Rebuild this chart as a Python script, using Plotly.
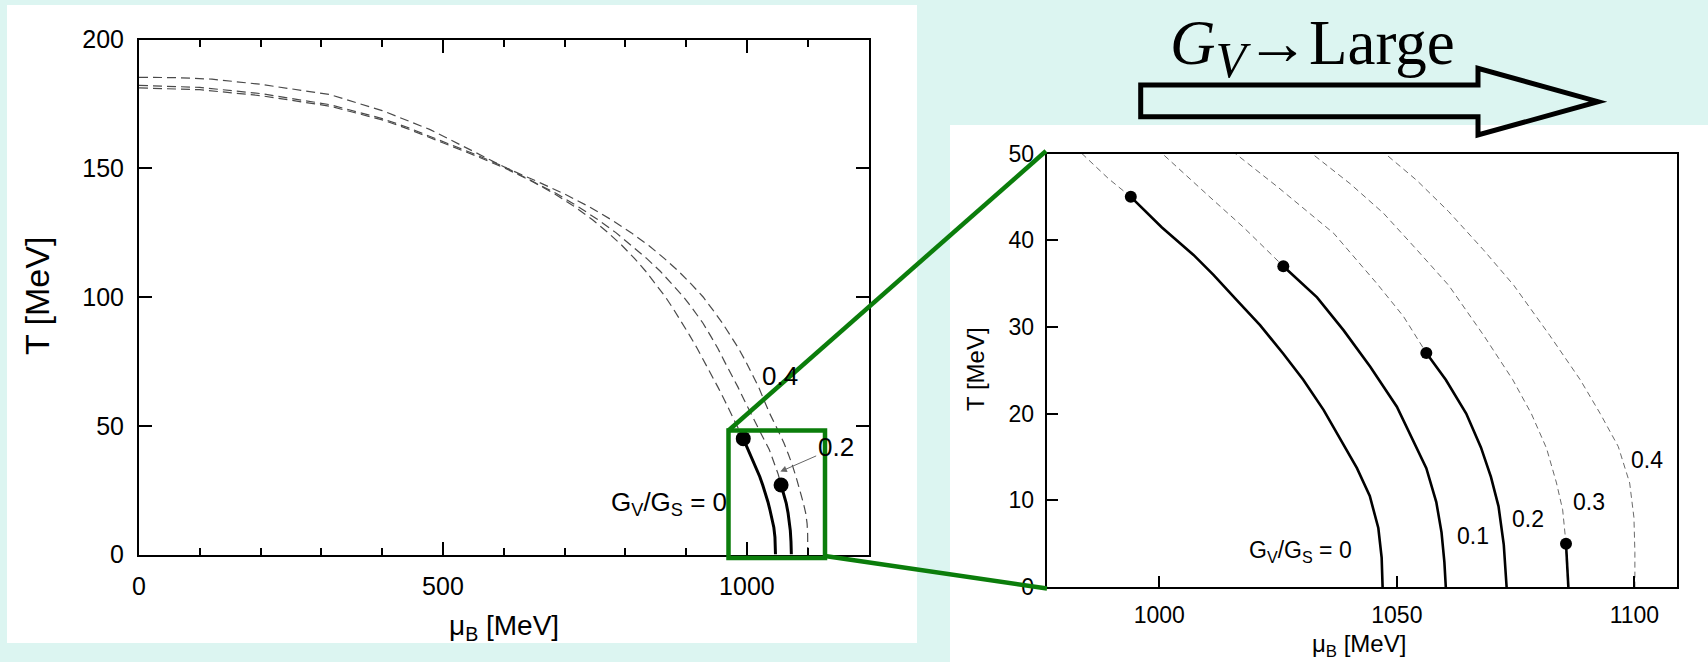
import plotly.graph_objects as go

W, H = 1708, 662

# ---- phase boundaries in the (mu_B, T) plane, in MeV ----
# crossover branches (dashed), running from mu_B = 0 down to the critical end point
cross_mu_g00 = [0, 100, 200, 314, 400, 440, 490, 552, 602, 646, 684, 717, 746, 771.5, 794.5,
                815, 833.5, 850.5, 866, 880, 893.3, 906, 918.3, 930, 941.3, 952.3, 963,
                973.5, 983.7, 989.3, 994]
cross_T_g00 = [181.2, 180.5, 178.2, 174.1, 168.8, 165.5, 160.8, 155, 150, 145, 140, 135, 130, 125, 120,
               115, 110, 105, 100, 95, 90, 85, 80, 75, 70, 65, 60, 55, 50, 47.1, 45]

cross_mu_g01 = [996.2, 1000.6, 1011.4, 1017.7, 1026.1]
cross_T_g01 = [52, 50, 44.6, 41.5, 37]

cross_mu_g02 = [0, 100, 200, 314, 400, 440, 490, 552, 603, 648, 688, 723, 755, 784.5, 810.5,
                835, 857.5, 877.5, 896, 912, 927.3, 940, 952.3, 963, 974.3, 985.3, 995.5,
                1005.7, 1016, 1025, 1036.7, 1045.8, 1051.4, 1056.2]
cross_T_g02 = [182.2, 181.4, 179, 174.7, 169.3, 166, 161.3, 155.5, 150.3, 145, 140, 135, 130, 125, 120,
               115, 110, 105, 100, 95, 90, 85, 80, 75, 70, 65, 60, 55, 50, 46.1, 40.8, 35, 31.2, 27]

cross_mu_g03 = [1027.9, 1032.1, 1040.2, 1047.2, 1054.2, 1060.9, 1068.3, 1074.4, 1078.3, 1081.5,
                1083.6, 1084.9, 1085.6]
cross_T_g03 = [52, 50, 46.5, 43.1, 38.9, 34.8, 29, 23.9, 20, 16, 12, 8.9, 5]

cross_mu_g04 = [0, 60, 120, 200, 314, 400, 479, 540, 605, 654, 700, 741, 777, 809.5, 838.5, 864,
                887.5, 908.5, 928, 944, 959.3, 973, 986.3, 998, 1009.3, 1019.3, 1028, 1037,
                1047.5, 1054.2, 1060.9, 1068.2, 1074.6, 1082.2, 1088.6, 1092.8, 1096.6, 1099, 1099.9,
                1100.1, 1100.1]
cross_T_g04 = [185.3, 185.2, 184.6, 182.6, 178.6, 172.4, 165, 157.6, 150, 145, 140, 135, 130, 125, 120,
               115, 110, 105, 100, 95, 90, 85, 80, 75, 70, 65, 60, 55, 50, 46.9, 43.3, 38.9, 34.8, 29,
               23.9, 20, 16.2, 12, 8, 4, 0]

# first-order branches (solid), from the critical end point down to T = 0
first_mu_g00 = [994, 1000.5, 1007.2, 1011.4, 1016.3, 1021.2, 1026.1, 1030.3, 1034.6, 1038.1, 1041.6,
                1044.3, 1046.1, 1046.8, 1047]
first_T_g00 = [45, 41.5, 38.3, 36, 33.1, 30.2, 26.9, 23.9, 20.4, 17.1, 13.7, 10.5, 6.8, 3.4, 0]

first_mu_g01 = [1026.1, 1033.2, 1038.8, 1044.4, 1050, 1053, 1056.2, 1058.3, 1059.4, 1060, 1060.3]
first_T_g01 = [37, 33.4, 29.6, 25.4, 20.8, 17.3, 13.7, 9.8, 6.3, 2.9, 0]

first_mu_g02 = [1056.2, 1060.3, 1064.6, 1067.7, 1069.8, 1071.4, 1072.5, 1073.1]
first_T_g02 = [27, 23.9, 20, 16.1, 12.7, 9.3, 4.9, 0]

first_mu_g03 = [1085.6, 1086.1]
first_T_g03 = [5, 0]

# critical end points for G_V/G_S = 0, 0.1, 0.2, 0.3
cep_ratio = ["0", "0.1", "0.2", "0.3"]
cep_mu = [994, 1026.1, 1056.2, 1085.6]
cep_T = [45, 37, 27, 5]

# tick values
left_xticks = [0, 500, 1000]
left_yticks = [0, 50, 100, 150, 200]
right_xticks = [1000, 1050, 1100]
right_yticks = [0, 10, 20, 30, 40, 50]

curves = {
    "0": ((cross_mu_g00, cross_T_g00), (first_mu_g00, first_T_g00)),
    "0.1": ((cross_mu_g01, cross_T_g01), (first_mu_g01, first_T_g01)),
    "0.2": ((cross_mu_g02, cross_T_g02), (first_mu_g02, first_T_g02)),
    "0.3": ((cross_mu_g03, cross_T_g03), (first_mu_g03, first_T_g03)),
    "0.4": ((cross_mu_g04, cross_T_g04), None),
}

SANS = "Liberation Sans, Arial, sans-serif"
SERIF = "Liberation Serif, Times New Roman, serif"
BG = "#dcf5f1"
GREEN = "#0b7d0b"


def px(x):
    return x / W


def py(y):
    return 1 - y / H


fig = go.Figure()


def add_panel(ratios, xa, ya, dash_col, dash_w, dash_pat, solid_w, dot_size):
    for r in ratios:
        cross, first = curves[r]
        fig.add_trace(go.Scatter(x=cross[0], y=cross[1], mode="lines", xaxis=xa, yaxis=ya,
                                 line=dict(color=dash_col, width=dash_w, dash=dash_pat),
                                 hoverinfo="skip", showlegend=False))
        if first is not None:
            fig.add_trace(go.Scatter(x=first[0], y=first[1], mode="lines", xaxis=xa, yaxis=ya,
                                     line=dict(color="black", width=solid_w),
                                     hoverinfo="skip", showlegend=False))
    sel = [i for i, r in enumerate(cep_ratio) if r in ratios]
    fig.add_trace(go.Scatter(x=[cep_mu[i] for i in sel], y=[cep_T[i] for i in sel], mode="markers",
                             xaxis=xa, yaxis=ya, marker=dict(color="black", size=dot_size),
                             cliponaxis=False, hoverinfo="skip", showlegend=False))


# full diagram
add_panel(["0", "0.2", "0.4"], "x", "y", "#4a4a4a", 1.2, "9px,5px", 3, 15)
# close-up near the critical end points
add_panel(["0", "0.1", "0.2", "0.3", "0.4"], "x2", "y2", "#6a6a6a", 1.0, "6px,4px", 2.6, 12)

# plot-area pixel boxes
LX0, LX1, LY0, LY1 = 139, 868.5, 39.5, 554.5
RX0, RX1, RY0, RY1 = 1046.7, 1676.7, 153.5, 587

tickfont_l = dict(family=SANS, size=25, color="black")
tickfont_r = dict(family=SANS, size=23, color="black")

fig.update_layout(
    width=W, height=H, margin=dict(l=0, r=0, t=0, b=0, pad=0, autoexpand=False),
    paper_bgcolor=BG, plot_bgcolor="white", showlegend=False,
    xaxis=dict(domain=[px(LX0), px(LX1)], range=[0, 1200], tickvals=left_xticks,
               ticks="inside", ticklen=13, tickwidth=2, tickcolor="black",
               minor=dict(dtick=100, ticks="inside", ticklen=7, tickwidth=2, tickcolor="black"),
               showline=True, linecolor="black", linewidth=2, mirror="allticks",
               showgrid=False, zeroline=False, tickfont=tickfont_l, ticklabelstandoff=8,
               automargin=False, anchor="y"),
    yaxis=dict(domain=[py(LY1), py(LY0)], range=[0, 200], tickvals=left_yticks,
               ticks="inside", ticklen=13, tickwidth=2, tickcolor="black",
               showline=True, linecolor="black", linewidth=2, mirror="allticks",
               showgrid=False, zeroline=False, tickfont=tickfont_l, ticklabelstandoff=8,
               automargin=False, anchor="x"),
    xaxis2=dict(domain=[px(RX0), px(RX1)], range=[976.3, 1108.9], tickvals=right_xticks,
                ticks="inside", ticklen=11, tickwidth=2, tickcolor="black",
                showline=True, linecolor="black", linewidth=2, mirror=True,
                showgrid=False, zeroline=False, tickfont=tickfont_r, ticklabelstandoff=6,
                automargin=False, anchor="y2"),
    yaxis2=dict(domain=[py(RY1), py(RY0)], range=[0, 50], tickvals=right_yticks,
                ticks="inside", ticklen=11, tickwidth=2, tickcolor="black",
                showline=True, linecolor="black", linewidth=2, mirror=True,
                showgrid=False, zeroline=False, tickfont=tickfont_r, ticklabelstandoff=6,
                automargin=False, anchor="x2"),
)

shapes = [
    # white panels behind both plots
    dict(type="rect", xref="paper", yref="paper", x0=px(7), x1=px(917), y0=py(643), y1=py(5),
         fillcolor="white", line=dict(width=0), layer="below"),
    dict(type="rect", xref="paper", yref="paper", x0=px(950), x1=px(W), y0=py(H), y1=py(125),
         fillcolor="white", line=dict(width=0), layer="below"),
]

# outlined block arrow under the heading
arrow_pts = [(1140.7, 85), (1478, 85), (1478, 68.3), (1598, 101.7), (1478, 135),
             (1478, 116.7), (1140.7, 116.7)]
path = "M " + " L ".join(f"{px(x):.6f},{py(y):.6f}" for x, y in arrow_pts) + " Z"
shapes.append(dict(type="path", xref="paper", yref="paper", path=path,
                   line=dict(color="black", width=5), fillcolor="rgba(0,0,0,0)", layer="above"))

# zoom box and its connectors to the close-up
shapes += [
    dict(type="rect", xref="paper", yref="paper", x0=px(728.5), x1=px(825), y0=py(558), y1=py(430.5),
         line=dict(color=GREEN, width=4.5), layer="above"),
    dict(type="line", xref="paper", yref="paper", x0=px(728.5), y0=py(430.5), x1=px(1046), y1=py(151),
         line=dict(color=GREEN, width=4.5), layer="above"),
    dict(type="line", xref="paper", yref="paper", x0=px(825), y0=py(556), x1=px(1047), y1=py(588.5),
         line=dict(color=GREEN, width=4.5), layer="above"),
]
fig.update_layout(shapes=shapes)

ann = []
# heading
ann.append(dict(xref="paper", yref="paper", x=px(1168), y=py(48), xanchor="left", yanchor="middle",
                text="<i>G</i><sub><i><span style='font-size:50px'>V</span></i></sub>→Large",
                showarrow=False, font=dict(family=SERIF, size=63, color="black")))

# axis titles
ann += [
    dict(xref="paper", yref="paper", x=px(37), y=py(296), text="T [MeV]", textangle=-90,
         xanchor="center", yanchor="middle", showarrow=False,
         font=dict(family=SANS, size=34, color="black")),
    dict(xref="paper", yref="paper", x=px(504), y=py(627), text="μ<sub>B</sub> [MeV]",
         xanchor="center", yanchor="middle", showarrow=False,
         font=dict(family=SANS, size=28, color="black")),
    dict(xref="paper", yref="paper", x=px(975), y=py(369), text="T [MeV]", textangle=-90,
         xanchor="center", yanchor="middle", showarrow=False,
         font=dict(family=SANS, size=24, color="black")),
    dict(xref="paper", yref="paper", x=px(1359), y=py(645), text="μ<sub>B</sub> [MeV]",
         xanchor="center", yanchor="middle", showarrow=False,
         font=dict(family=SANS, size=24, color="black")),
]

# curve labels, full diagram
lab_l = dict(family=SANS, size=26, color="black")
ann += [
    dict(xref="x", yref="y", x=1055, y=69.4, text="0.4", showarrow=False, font=lab_l,
         xanchor="center", yanchor="middle"),
    dict(xref="x", yref="y", x=872, y=20, text="G<sub>V</sub>/G<sub>S</sub> = 0", showarrow=False,
         font=lab_l, xanchor="center", yanchor="middle"),
    dict(xref="x", yref="y", x=1055, y=32.2, ax=1146, ay=41.6, axref="x", ayref="y",
         text="0.2", showarrow=True, arrowhead=2, arrowsize=1.3, arrowwidth=1, arrowcolor="#666",
         standoff=0, font=lab_l),
]

# curve labels, close-up
lab_r = dict(family=SANS, size=23, color="black")
label_ratio = ["G<sub>V</sub>/G<sub>S</sub> = 0", "0.1", "0.2", "0.3", "0.4"]
label_mu = [1029.7, 1066.1, 1077.6, 1090.5, 1102.6]
label_T = [4.1, 5.9, 7.9, 9.8, 14.7]
for t, xm, yt in zip(label_ratio, label_mu, label_T):
    ann.append(dict(xref="x2", yref="y2", x=xm, y=yt, text=t, showarrow=False, font=lab_r,
                    xanchor="center", yanchor="middle"))

fig.update_layout(annotations=ann)

fig.write_html("out.html")
